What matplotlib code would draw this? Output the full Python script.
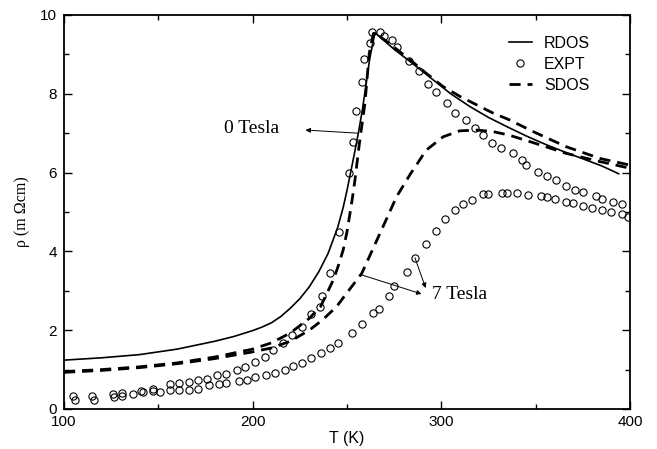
import matplotlib
matplotlib.use("Agg")
import matplotlib.pyplot as plt
from matplotlib.legend_handler import HandlerLine2D
from matplotlib.ticker import MultipleLocator

# ---- data ----
T_rdos = [100, 120, 140, 160, 180, 190, 200, 205, 210, 215, 220, 225, 230, 235, 240, 245,
          248, 250, 252, 254, 256, 258, 260, 262, 264.8, 275, 285, 295, 305, 315, 325,
          335, 345, 355, 365, 375, 385, 394]
rho_rdos = [1.24, 1.30, 1.38, 1.52, 1.72, 1.84, 1.99, 2.08, 2.19, 2.35, 2.56, 2.8, 3.1,
            3.48, 3.95, 4.6, 5.12, 5.55, 6.02, 6.5, 7.0, 7.55, 8.2, 8.88, 9.55, 9.13, 8.76,
            8.38, 8.0, 7.68, 7.40, 7.16, 6.93, 6.72, 6.53, 6.35, 6.17, 5.97]

T_sdos0 = [100, 120, 140, 160, 180, 200, 210, 220, 230, 236, 239, 242.7, 245.5, 248, 250,
           251.6, 253, 254.2, 256.6, 259.5, 261.8, 264, 265, 275, 283, 292, 301, 310,
           318.7, 327, 336, 348.7, 366, 384, 400]
rho_sdos0 = [0.95, 1.0, 1.07, 1.17, 1.32, 1.52, 1.68, 1.93, 2.3, 2.6, 2.9, 3.27, 3.65, 4.04,
             4.5, 4.97, 5.4, 5.81, 6.75, 7.76, 9.03, 9.53, 9.55, 9.18, 8.88, 8.52, 8.18,
             7.93, 7.72, 7.52, 7.34, 7.04, 6.66, 6.36, 6.19]

T_sdos7 = [100, 120, 140, 160, 180, 200, 210, 220, 230, 237, 244.5, 250, 257.8, 267.5,
           276.3, 283.4, 292, 301, 309.8, 318.7, 327.5, 336, 348.7, 366, 384, 400]
rho_sdos7 = [0.93, 0.98, 1.05, 1.15, 1.28, 1.45, 1.55, 1.72, 2.0, 2.26, 2.6, 2.95, 3.44, 4.46,
             5.39, 5.95, 6.57, 6.91, 7.06, 7.08, 7.04, 6.95, 6.76, 6.49, 6.28, 6.11]

T_expt0 = [105, 115, 126, 131, 141, 147, 156, 161, 166, 171, 176, 181, 186, 191.6, 196,
           201, 206.5, 211, 216, 221, 226, 231, 235.6, 236.5, 241, 246, 251, 253, 255, 258,
           259, 262, 263, 267.5, 269.6, 274, 276.6, 283, 288, 293, 297, 303, 307, 313, 318,
           322, 327, 331.5, 338, 342.5, 345, 351, 356, 361, 366, 371, 375, 382, 385, 391, 396]
rho_expt0 = [0.34, 0.34, 0.38, 0.41, 0.46, 0.50, 0.63, 0.67, 0.69, 0.73, 0.77, 0.86, 0.89,
             0.99, 1.07, 1.20, 1.33, 1.50, 1.67, 1.88, 2.09, 2.40, 2.60, 2.87, 3.46, 4.48,
             6.0, 6.78, 7.56, 8.29, 8.88, 9.3, 9.56, 9.56, 9.47, 9.37, 9.18, 8.82, 8.57,
             8.26, 8.04, 7.76, 7.52, 7.33, 7.12, 6.95, 6.74, 6.62, 6.49, 6.32, 6.19, 6.02,
             5.91, 5.80, 5.67, 5.57, 5.50, 5.41, 5.33, 5.26, 5.20]

T_expt7 = [106, 116, 126.5, 131, 136.5, 142, 147, 151, 156, 161, 166, 171, 177, 182, 186,
           193, 197, 201, 207, 212, 217, 221.5, 226, 231, 236, 241, 245, 252.5, 258, 264,
           267, 272, 275, 282, 286, 292, 297, 302, 307, 311.6, 316, 322, 325, 332, 335,
           340, 346, 353, 356, 360, 366, 370, 375, 380, 385, 390, 395.5, 398.7]
rho_expt7 = [0.24, 0.24, 0.31, 0.33, 0.37, 0.42, 0.45, 0.44, 0.48, 0.48, 0.48, 0.50, 0.61,
             0.63, 0.65, 0.72, 0.74, 0.82, 0.86, 0.92, 0.99, 1.09, 1.18, 1.29, 1.41, 1.54,
             1.68, 1.94, 2.16, 2.43, 2.54, 2.88, 3.12, 3.48, 3.84, 4.19, 4.53, 4.82, 5.04,
             5.21, 5.30, 5.46, 5.46, 5.47, 5.47, 5.47, 5.42, 5.41, 5.37, 5.32, 5.26, 5.22,
             5.15, 5.09, 5.05, 4.99, 4.95, 4.88]

x_ticks = [100, 200, 300, 400]
y_ticks = [0, 2, 4, 6, 8, 10]


class RightMarkerHandler(HandlerLine2D):
    def get_xdata(self, legend, xdescent, ydescent, width, height, fontsize):
        xdata = [-xdescent, -xdescent + width]
        return xdata, [-xdescent + width]


fig = plt.figure(figsize=(6.57, 4.49), dpi=100)
ax = fig.add_axes([64 / 657, 1 - 409 / 449, 566 / 657, 394 / 449])

sans = "Liberation Sans"
serif = "Liberation Serif"

l1, = ax.plot(T_rdos, rho_rdos, color="black", lw=1.2, label="RDOS")
l_s0, = ax.plot(T_sdos0, rho_sdos0, color="black", lw=2.0, dashes=(4, 2.5), label="SDOS")
ax.plot(T_sdos7, rho_sdos7, color="black", lw=2.0, dashes=(4, 2.5))
l2, = ax.plot(T_expt0, rho_expt0, linestyle="none", marker="o", ms=5.2, mfc="none",
              mec="black", mew=0.8, label="EXPT")
ax.plot(T_expt7, rho_expt7, linestyle="none", marker="o", ms=5.2, mfc="none",
        mec="black", mew=0.8)

ax.set_xlim(100, 400)
ax.set_ylim(0, 10)
ax.set_xticks(x_ticks)
ax.set_yticks(y_ticks)
ax.xaxis.set_minor_locator(MultipleLocator(50))
ax.yaxis.set_minor_locator(MultipleLocator(1))
ax.tick_params(which="both", direction="in", top=True, right=True, width=1.0)
ax.tick_params(which="major", length=6, labelsize=11)
ax.tick_params(which="minor", length=3.5)
for lab in ax.get_xticklabels() + ax.get_yticklabels():
    lab.set_family(sans)
ax.tick_params(axis="x", pad=4)
ax.tick_params(axis="y", pad=5)
for s in ax.spines.values():
    s.set_linewidth(1.3)

ax.set_xlabel("T (K)", family=sans, fontsize=11.5, labelpad=2)
ax.set_ylabel("ρ (m Ωcm)", family=serif, fontsize=11.5, labelpad=7)

leg = ax.legend([l1, l2, l_s0], ["RDOS", "EXPT", "SDOS"],
                loc="upper left", bbox_to_anchor=(0.786, 0.947), frameon=False,
                borderpad=0, borderaxespad=0, handlelength=1.45, handletextpad=0.75,
                labelspacing=0.38, numpoints=1, prop={"family": sans, "size": 11.5},
                handler_map={l2: RightMarkerHandler(numpoints=1)})

arrow = dict(arrowstyle="-|>", lw=0.7, color="black", mutation_scale=7,
             shrinkA=0, shrinkB=0)
ax.text(199.6, 7.13, "0 Tesla", family=serif, fontsize=14, ha="center", va="center")
ax.annotate("", xy=(228, 7.08), xytext=(256, 7.0), arrowprops=arrow)
ax.text(295, 2.9, "7 Tesla", family=serif, fontsize=14, ha="left", va="center")
ax.annotate("", xy=(289.5, 2.92), xytext=(258, 3.4), arrowprops=arrow)
ax.annotate("", xy=(291.7, 3.07), xytext=(286, 3.84), arrowprops=arrow)

fig.savefig("out.png", dpi=100)
